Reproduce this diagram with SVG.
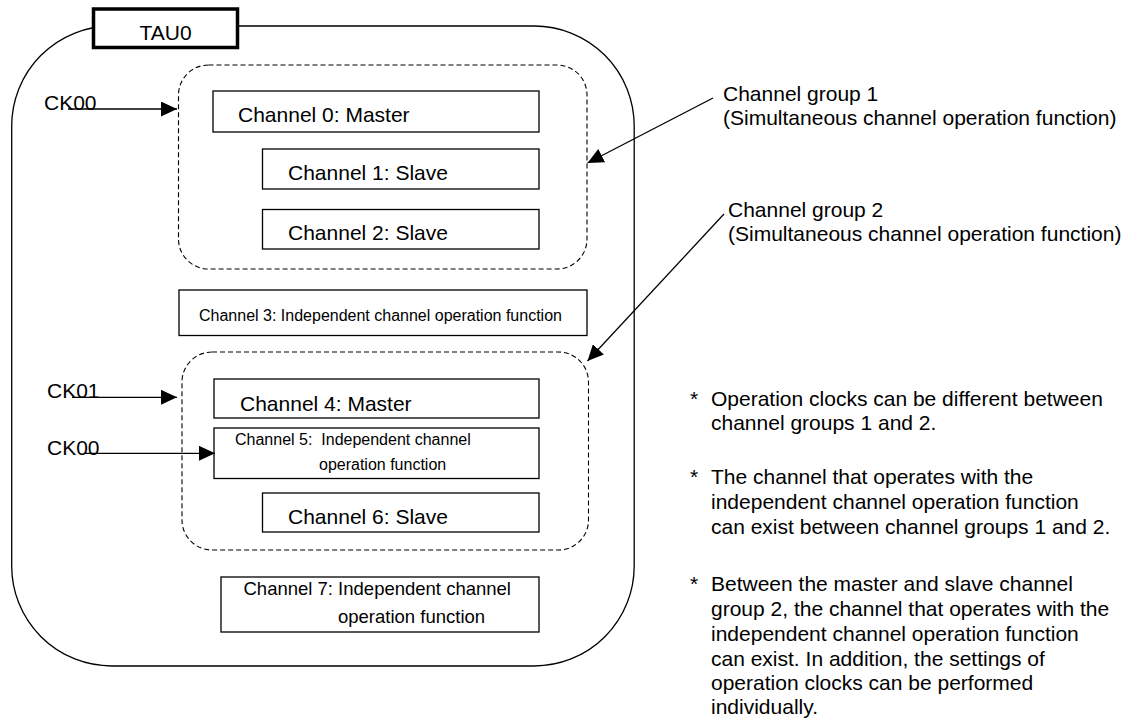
<svg xmlns="http://www.w3.org/2000/svg" width="1137" height="720" viewBox="0 0 1137 720">
<style>
text{font-family:"Liberation Sans",Arial,sans-serif;fill:#000}
.f21{font-size:21px}
.f16{font-size:16px}
.f18{font-size:18.5px}
.box{fill:#fff;stroke:#000;stroke-width:1.3}
.grp{fill:none;stroke:#000;stroke-width:1.1;stroke-dasharray:5 3}
.ln{fill:none;stroke:#000;stroke-width:1.3}
</style>
<defs>
<marker id="ah" markerUnits="userSpaceOnUse" markerWidth="16" markerHeight="15" refX="16" refY="7.5" orient="auto">
<path d="M0,0 L16,7.5 L0,15 z" fill="#000"/>
</marker>
</defs>
<rect width="1137" height="720" fill="#fff"/>
<g id="tau0">
<rect x="11.7" y="26" width="622.5" height="640" rx="100" ry="100" class="ln"/>
<rect x="93.5" y="9" width="144" height="38.5" fill="#fff" stroke="#000" stroke-width="3.5"/>
<text x="165.5" y="40" class="f21" text-anchor="middle">TAU0</text>
</g>
<g id="group1">
<rect x="178.5" y="65" width="408.5" height="204" rx="30" ry="30" class="grp"/>
</g>
<g id="group2">
<rect x="182" y="352" width="406.5" height="198" rx="30" ry="30" class="grp"/>
</g>
<g id="ch0"><rect x="213" y="91" width="326" height="41" class="box"/><text x="238" y="121.5" class="f21">Channel 0: Master</text></g>
<g id="ch1"><rect x="262.5" y="149" width="276.5" height="40" class="box"/><text x="288" y="180" class="f21">Channel 1: Slave</text></g>
<g id="ch2"><rect x="262.5" y="209.5" width="276.5" height="39.5" class="box"/><text x="288" y="240" class="f21">Channel 2: Slave</text></g>
<g id="ch3"><rect x="179" y="290" width="408" height="45.5" class="box"/><text x="199" y="321" class="f16">Channel 3: Independent channel operation function</text></g>
<g id="ch4"><rect x="214" y="379" width="325" height="39" class="box"/><text x="240" y="410.5" class="f21">Channel 4: Master</text></g>
<g id="ch5"><rect x="214" y="428" width="325" height="50.5" class="box"/><text x="235" y="445" class="f16" xml:space="preserve">Channel 5:  Independent channel</text><text x="319" y="470" class="f16">operation function</text></g>
<g id="ch6"><rect x="262.5" y="493" width="276.5" height="39" class="box"/><text x="288" y="524" class="f21">Channel 6: Slave</text></g>
<g id="ch7"><rect x="221" y="577" width="318" height="55" class="box"/><text x="243.5" y="595" class="f18">Channel 7: Independent channel</text><text x="338" y="623" class="f18">operation function</text></g>
<g id="ck00a"><text x="44" y="110" class="f21">CK00</text></g>
<g id="ck01"><text x="47" y="398" class="f21">CK01</text></g>
<g id="ck00b"><text x="47" y="455" class="f21">CK00</text></g>
<g id="label1"><text x="723" y="101" class="f21">Channel group 1</text><text x="723" y="125" class="f21">(Simultaneous channel operation function)</text></g>
<g id="label2"><text x="728" y="217" class="f21">Channel group 2</text><text x="728" y="241" class="f21">(Simultaneous channel operation function)</text></g>
<g id="notes">
<text x="690" y="406" class="f21">*</text>
<text x="711" y="406" class="f21">Operation clocks can be different between</text>
<text x="711" y="430" class="f21">channel groups 1 and 2.</text>
<text x="690" y="484" class="f21">*</text>
<text x="711" y="484" class="f21">The channel that operates with the</text>
<text x="711" y="509" class="f21">independent channel operation function</text>
<text x="711" y="534" class="f21">can exist between channel groups 1 and 2.</text>
<text x="690" y="591" class="f21">*</text>
<text x="711" y="591" class="f21">Between the master and slave channel</text>
<text x="711" y="616" class="f21">group 2, the channel that operates with the</text>
<text x="711" y="641" class="f21">independent channel operation function</text>
<text x="711" y="666" class="f21">can exist. In addition, the settings of</text>
<text x="711" y="690" class="f21">operation clocks can be performed</text>
<text x="711" y="714" class="f21">individually.</text>
</g>
<g id="connectors">
<line x1="68" y1="109" x2="177" y2="109" class="ln" marker-end="url(#ah)"/>
<line x1="72" y1="397.3" x2="177" y2="397.3" class="ln" marker-end="url(#ah)"/>
<line x1="85" y1="453.3" x2="215" y2="453.3" class="ln" marker-end="url(#ah)"/>
<line x1="713" y1="98" x2="587.5" y2="163" class="ln" marker-end="url(#ah)"/>
<line x1="724" y1="214" x2="587.5" y2="361" class="ln" marker-end="url(#ah)"/>
</g>
</svg>
